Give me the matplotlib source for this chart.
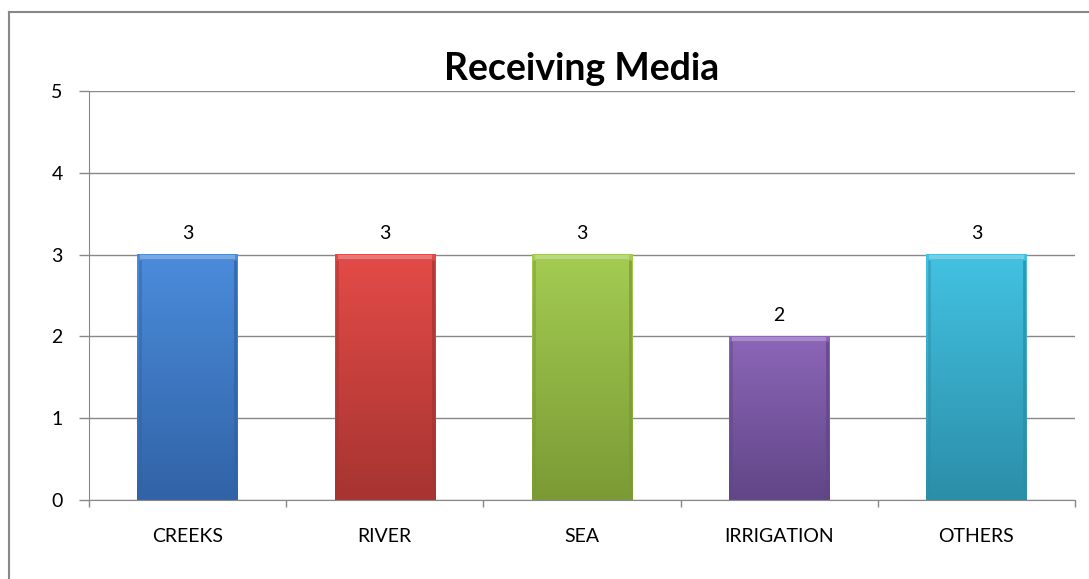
import matplotlib.pyplot as plt
from matplotlib.lines import Line2D
from matplotlib.colors import LinearSegmentedColormap
import numpy as np

plt.rcParams['font.family'] = ['Lato', 'DejaVu Sans']

categories = ['CREEKS', 'RIVER', 'SEA', 'IRRIGATION', 'OTHERS']
values = [3, 3, 3, 2, 3]
# top / bottom shade of each bar
tops = ['#4b8cdb', '#e34b48', '#a4cc52', '#8c66b8', '#43c2e2']
bottoms = ['#3163a6', '#a63431', '#7b9a35', '#614687', '#2b8ea8']

W, H = 1089, 579
fig = plt.figure(figsize=(W / 100, H / 100), dpi=100)
ax = fig.add_axes([89 / W, 1 - 500 / H, (1075 - 89) / W, (500 - 91) / H])

x = np.arange(len(categories))
bw = 0.51
bars = ax.bar(x, values, width=bw, color='none', zorder=3)

# gradient fill for each bar
grad = np.linspace(0, 1, 256).reshape(-1, 1)
for b, c1, c2 in zip(bars, tops, bottoms):
    cmap = LinearSegmentedColormap.from_list('g', [c2, c1])
    x0, y0 = b.get_x(), b.get_y()
    w, h = b.get_width(), b.get_height()
    ax.imshow(grad, cmap=cmap, aspect='auto', origin='lower',
              extent=[x0, x0 + w, y0, y0 + h], zorder=3)
    # darker sides and light top to get the bevel look
    ax.plot([x0 + w * 0.025] * 2, [0, h - 0.06], color=c2, lw=2, alpha=0.5,
            solid_capstyle='butt', zorder=4)
    ax.plot([x0 + w * 0.975] * 2, [0, h - 0.06], color=c2, lw=2, alpha=0.8,
            solid_capstyle='butt', zorder=4)
    ax.plot([x0 + w * 0.03, x0 + w * 0.97], [h - 0.03, h - 0.03], color='white',
            lw=3, alpha=0.25, solid_capstyle='butt', zorder=4)
    ax.text(x0 + w / 2, h + 0.15, str(int(h)), ha='center', va='bottom',
            fontsize=14, color='black')

ax.set_xlim(-0.5, len(categories) - 0.5)
ax.set_ylim(0, 5)
ax.set_yticks(range(0, 6))
ax.set_xticks(x)
ax.set_xticklabels(categories, fontsize=14)
ax.set_xticks(np.arange(-0.5, len(categories)), minor=True)
ax.tick_params(axis='x', which='major', length=0, pad=20)
ax.tick_params(axis='x', which='minor', length=5, color='#888888', width=1)
ax.tick_params(axis='y', length=7, color='#888888', width=1, labelsize=14, pad=12)
ax.grid(axis='y', color='#888888', lw=1, zorder=0)
for s in ['top', 'right']:
    ax.spines[s].set_visible(False)
for s in ['left', 'bottom']:
    ax.spines[s].set_color('#888888')
    ax.spines[s].set_zorder(5)

ax.set_title('Receiving Media', fontsize=27, fontweight='bold', pad=8)

# outer chart frame (runs off the image right and bottom)
fig.add_artist(Line2D([9 / W, 1.01], [1 - 12 / H, 1 - 12 / H], color='#888888', lw=1.5))
fig.add_artist(Line2D([9 / W, 9 / W], [-0.01, 1 - 12 / H], color='#888888', lw=1.5))

fig.savefig('out.png', dpi=100)
